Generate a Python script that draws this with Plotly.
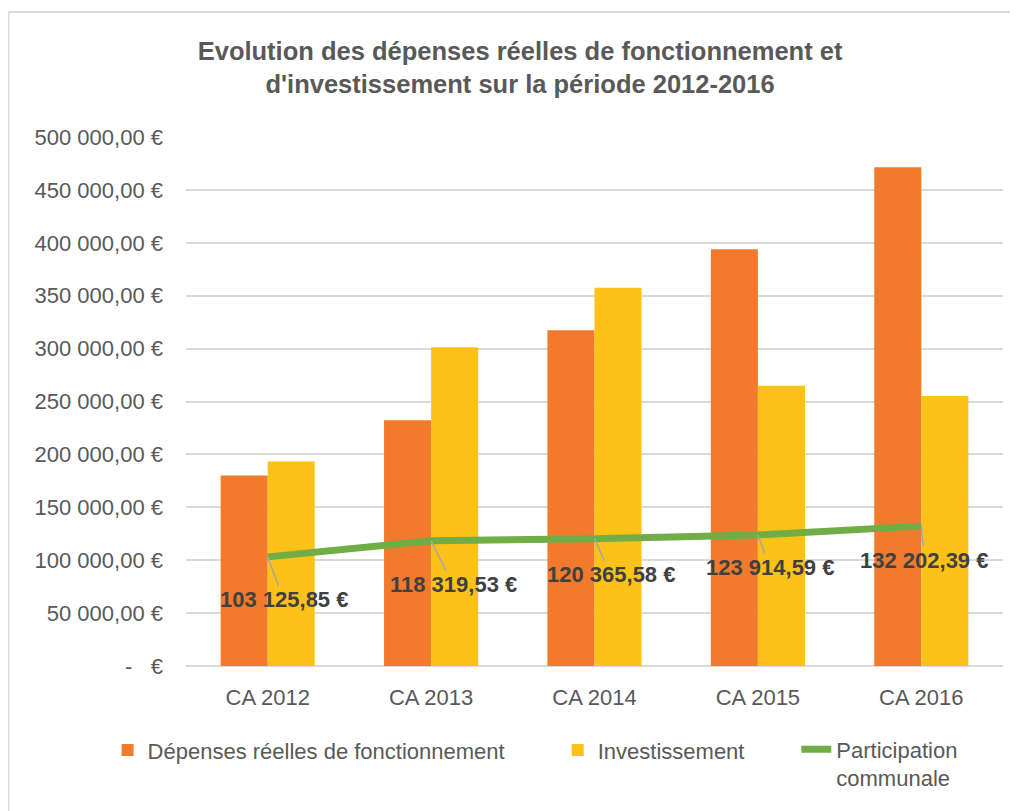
import plotly.graph_objects as go

categories = ["CA 2012", "CA 2013", "CA 2014", "CA 2015", "CA 2016"]
fonctionnement = [180100, 232200, 317400, 393800, 471500]
investissement = [193400, 301300, 357500, 265000, 255300]
participation = [103125.85, 118319.53, 120365.58, 123914.59, 132202.39]
tick_values = [0, 50000, 100000, 150000, 200000, 250000, 300000, 350000, 400000, 450000, 500000]

# label offsets (pixels) of the data labels of the line
label_dx = [16, 22, 16, 12, 3]
label_dy = [43, 44, 36, 33, 34]


def fmt_eur(v):
    if v == 0:
        return "-   €"
    s = f"{v:,.2f}"
    ent, dec = s.split(".")
    return ent.replace(",", " ") + "," + dec + " €"


FONT = "Liberation Sans, Arial, sans-serif"
GREY = "#595959"

fig = go.Figure()
fig.add_trace(go.Bar(
    x=categories, y=fonctionnement, name="Dépenses réelles de fonctionnement",
    marker=dict(color="#F27A2C", line=dict(width=0)), legend="legend",
))
fig.add_trace(go.Bar(
    x=categories, y=investissement, name="Investissement",
    marker=dict(color="#FCC218", line=dict(width=0)), legend="legend2",
))
fig.add_trace(go.Scatter(
    x=categories, y=participation, name="Participation<br>communale",
    mode="lines", line=dict(color="#70AD47", width=7), legend="legend3",
))

for c, v, dx, dy in zip(categories, participation, label_dx, label_dy):
    fig.add_annotation(
        x=c, y=v, text="<b>" + fmt_eur(v) + "</b>", showarrow=True,
        arrowhead=0, arrowwidth=1.5, arrowcolor="#A6A6A6", ax=dx, ay=dy,
        standoff=0, font=dict(family=FONT, size=22, color="#404040"),
    )

leg_common = dict(orientation="h", yanchor="middle", xanchor="left",
                  font=dict(family=FONT, size=22, color=GREY),
                  bgcolor="rgba(0,0,0,0)")

fig.update_layout(
    width=1010, height=803,
    margin=dict(l=178, r=15, t=129, b=145),
    paper_bgcolor="white", plot_bgcolor="white",
    barmode="group", bargap=0.424, bargroupgap=0,
    title=dict(
        text="<b>Evolution des dépenses réelles de fonctionnement et<br>d'investissement sur la période 2012-2016</b>",
        x=0.507, xanchor="center", xref="container",
        y=0.935, yanchor="middle", yref="container",
        font=dict(family=FONT, size=25.5, color=GREY),
    ),
    xaxis=dict(
        showgrid=False, showline=False, zeroline=False, ticks="",
        tickfont=dict(family=FONT, size=22, color=GREY),
        ticklabelstandoff=16,
    ),
    yaxis=dict(
        range=[0, 500000], tickvals=tick_values,
        ticktext=[fmt_eur(v) for v in tick_values],
        showgrid=True, gridcolor="#D9D9D9", gridwidth=1.5,
        zeroline=True, zerolinecolor="#D9D9D9", zerolinewidth=1.5,
        showline=False, ticks="",
        tickfont=dict(family=FONT, size=22, color=GREY),
        ticklabelstandoff=22,
    ),
    legend=dict(x=-0.096, y=-0.159, **leg_common),
    legend2=dict(x=0.455, y=-0.159, **leg_common),
    legend3=dict(x=0.747, y=-0.185, valign="top", **leg_common),
    showlegend=True,
    shapes=[
        dict(type="line", xref="paper", yref="paper", x0=-0.2173, x1=1.05,
             y0=1.2363, y1=1.2363, line=dict(color="#D9D9D9", width=2)),
        dict(type="line", xref="paper", yref="paper", x0=-0.2173, x1=-0.2173,
             y0=-0.3, y1=1.2363, line=dict(color="#D9D9D9", width=2)),
    ],
)

fig.write_html("out.html")
